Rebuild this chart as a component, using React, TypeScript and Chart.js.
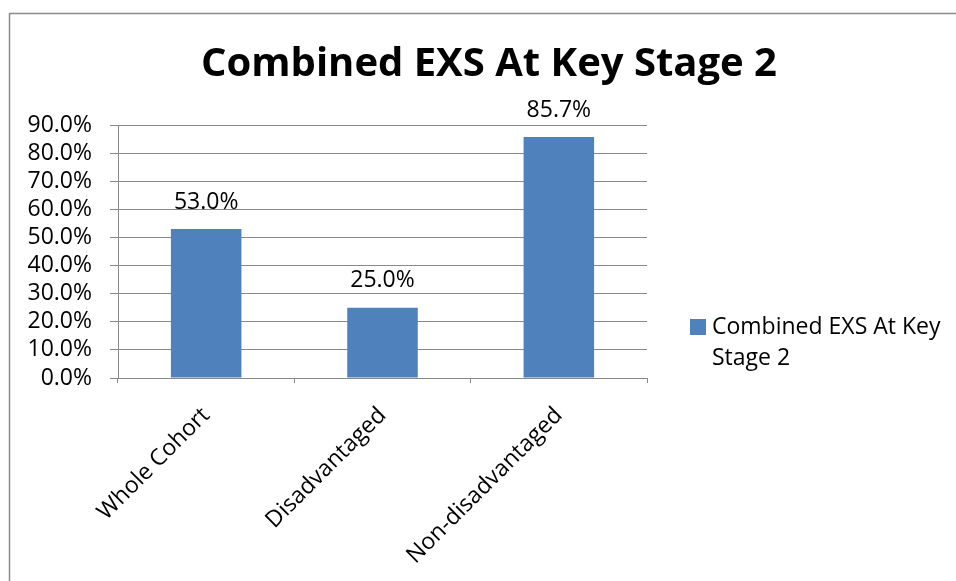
import React, { useEffect, useRef } from "react";
import { Chart, registerables } from "chart.js";

Chart.register(...registerables);

const TITLE = "Combined EXS At Key Stage 2";
const SERIES_NAME = "Combined EXS At Key Stage 2";
const LEGEND_LINES = ["Combined EXS At Key", "Stage 2"];
const categories = ["Whole Cohort", "Disadvantaged", "Non-disadvantaged"];
const values = [53.0, 25.0, 85.7];
const yMin = 0;
const yMax = 90;
const yStep = 10;

const FONT = "'Open Sans', sans-serif";
const BAR_COLOR = "#4F81BD";
const GRID_COLOR = "#898989";

const W = 956;
const H = 581;

const overlay = {
  id: "overlay",
  beforeDraw(chart: any) {
    const ctx = chart.ctx;
    ctx.save();
    ctx.fillStyle = "#ffffff";
    ctx.fillRect(0, 0, chart.width, chart.height);
    ctx.strokeStyle = "#8c8c8c";
    ctx.lineWidth = 1.5;
    ctx.beginPath();
    ctx.moveTo(9.5, chart.height + 5);
    ctx.lineTo(9.5, 13.5);
    ctx.lineTo(chart.width + 5, 13.5);
    ctx.stroke();
    ctx.restore();
  },
  afterDatasetsDraw(chart: any) {
    const ctx = chart.ctx;
    const meta = chart.getDatasetMeta(0);
    ctx.save();
    ctx.fillStyle = "#000";
    ctx.font = `23px ${FONT}`;
    ctx.textAlign = "center";
    ctx.textBaseline = "middle";
    meta.data.forEach((bar: any, i: number) => {
      const v = chart.data.datasets[0].data[i] as number;
      ctx.fillText(v.toFixed(1) + "%", bar.x, bar.y - 27);
    });
    ctx.restore();
  },
  afterDraw(chart: any) {
    const ctx = chart.ctx;
    ctx.save();
    ctx.fillStyle = "#000";
    ctx.font = `bold 40px ${FONT}`;
    ctx.textAlign = "center";
    ctx.textBaseline = "middle";
    ctx.fillText(TITLE, 489, 65);
    // legend
    ctx.fillStyle = BAR_COLOR;
    ctx.fillRect(690, 319, 16, 16);
    ctx.fillStyle = "#000";
    ctx.font = `23px ${FONT}`;
    ctx.textAlign = "left";
    LEGEND_LINES.forEach((line, i) => {
      ctx.fillText(line, 712, 327 + i * 31);
    });
    ctx.restore();
  },
};

export default function App() {
  const ref = useRef<HTMLCanvasElement | null>(null);
  useEffect(() => {
    if (!ref.current) return;
    const chart = new Chart(ref.current, {
      type: "bar",
      data: {
        labels: categories,
        datasets: [
          {
            label: SERIES_NAME,
            data: values,
            backgroundColor: BAR_COLOR,
            borderWidth: 0,
            barPercentage: 0.4,
            categoryPercentage: 1,
          },
        ],
      },
      options: {
        responsive: false,
        animation: false,
        layout: { padding: { left: 0, right: W - 647, top: 125, bottom: 0 } },
        plugins: {
          legend: { display: false },
          title: { display: false },
          tooltip: { enabled: false },
        },
        scales: {
          x: {
            offset: true,
            grid: {
              offset: true,
              drawOnChartArea: false,
              drawTicks: true,
              tickLength: 5,
              color: GRID_COLOR,
            },
            border: { display: true, color: GRID_COLOR, width: 1 },
            ticks: {
              autoSkip: false,
              maxRotation: 45,
              minRotation: 45,
              padding: 19,
              labelOffset: 0,
              color: "#000",
              font: { family: FONT, size: 23 },
            },
            afterFit: (scale: any) => {
              scale.height = H - 378;
            },
          },
          y: {
            min: yMin,
            max: yMax,
            grid: {
              drawTicks: true,
              tickLength: 8,
              color: GRID_COLOR,
            },
            border: { display: true, color: GRID_COLOR, width: 1 },
            ticks: {
              stepSize: yStep,
              autoSkip: false,
              padding: 18,
              color: "#000",
              font: { family: FONT, size: 23 },
              callback: (v: any) => Number(v).toFixed(1) + "%",
            },
            afterFit: (scale: any) => {
              scale.width = 118;
            },
          },
        },
      },
      plugins: [overlay],
    });
    return () => chart.destroy();
  }, []);
  return (
    <div style={{ position: "fixed", left: 0, top: 0, width: W, height: H, background: "#fff" }}>
      <canvas ref={ref} width={W} height={H} style={{ display: "block" }} />
    </div>
  );
}
